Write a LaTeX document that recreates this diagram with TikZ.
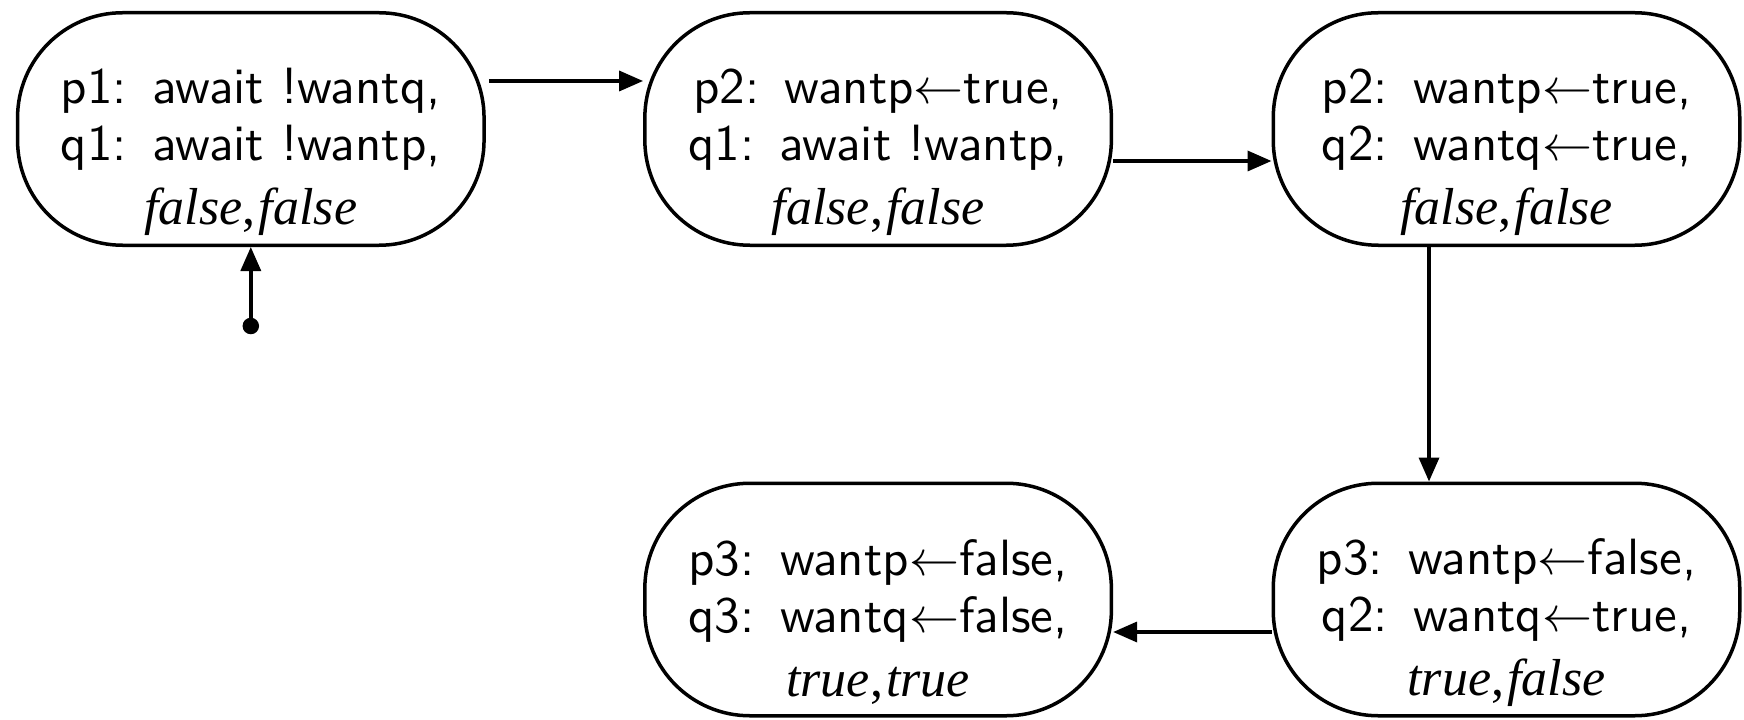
\documentclass[tikz,border=0pt]{standalone}
\usepackage{fontspec}
\newfontfamily\valfont{Liberation Serif}
\usetikzlibrary{arrows.meta,calc}

% truth values: Times-like italic, separated by an upright comma
\newcommand{\vals}[2]{{\valfont\fontsize{10.4}{12}\selectfont\itshape #1\upshape,\hspace{0.06em}\itshape #2}}
% statement label followed by a slightly wide gap
\newcommand{\lbl}[1]{#1:\hspace{0.5em}}
\newcommand{\asg}{$\leftarrow$}

\tikzset{
  state/.style={draw, line width=0.7pt, rounded corners=21pt, inner sep=0pt,
    minimum width=93.3pt, minimum height=46.5pt},
  statetext/.style={align=center, inner sep=0pt,
    font=\sffamily\fontsize{10.2}{11.4}\selectfont},
  trans/.style={line width=0.7pt, -{Triangle[length=4.8pt,width=4pt]}},
  startdot/.style={circle, fill, inner sep=0pt, minimum size=3.3pt}
}

\begin{document}
\begin{tikzpicture}[x=0.2pt, y=-0.2pt]
\useasboundingbox (0,0) rectangle (1744,719);

% states (boxes)
\node[state] (A) at (250.8,129) {};
\node[state] (B) at (878.1,129) {};
\node[state] (C) at (1506.5,129) {};
\node[state] (D) at (1506.5,599.5) {};
\node[state] (E) at (878.1,599.5) {};

% state contents
\node[statetext] (At) at ($(A.center)+(0,23)$) {\lbl{p1}await !wantq,\\ \lbl{q1}await !wantp,\\[1.4pt] \vals{false}{false}};
\node[statetext] (Bt) at ($(B.center)+(0,23)$) {\lbl{p2}wantp\asg true,\\ \lbl{q1}await !wantp,\\[1.4pt] \vals{false}{false}};
\node[statetext] (Ct) at ($(C.center)+(0,23)$) {\lbl{p2}wantp\asg true,\\ \lbl{q2}wantq\asg true,\\[1.4pt] \vals{false}{false}};
\node[statetext] (Dt) at ($(D.center)+(0,23)$) {\lbl{p3}wantp\asg false,\\ \lbl{q2}wantq\asg true,\\[1.4pt] \vals{true}{false}};
\node[statetext] (Et) at ($(E.center)+(0,23)$) {\lbl{p3}wantp\asg false,\\ \lbl{q3}wantq\asg false,\\[1.4pt] \vals{true}{true}};

% initial marker
\node[startdot] (init) at ($(A.south)+(0,79)$) {};
\draw[trans] (init.center) -- (A.south);

% transitions
\draw[trans] ($(A.east)+(3,-48)$) -- ($(B.west)+(0,-48)$);
\draw[trans] ($(B.east)+(0,32)$) -- ($(C.west)+(0,32)$);
\draw[trans] ($(C.south)+(-77.5,0)$) -- ($(D.north)+(-77.5,0)$);
\draw[trans] ($(D.west)+(0,32.5)$) -- ($(E.east)+(0,32.5)$);
\end{tikzpicture}
\end{document}
